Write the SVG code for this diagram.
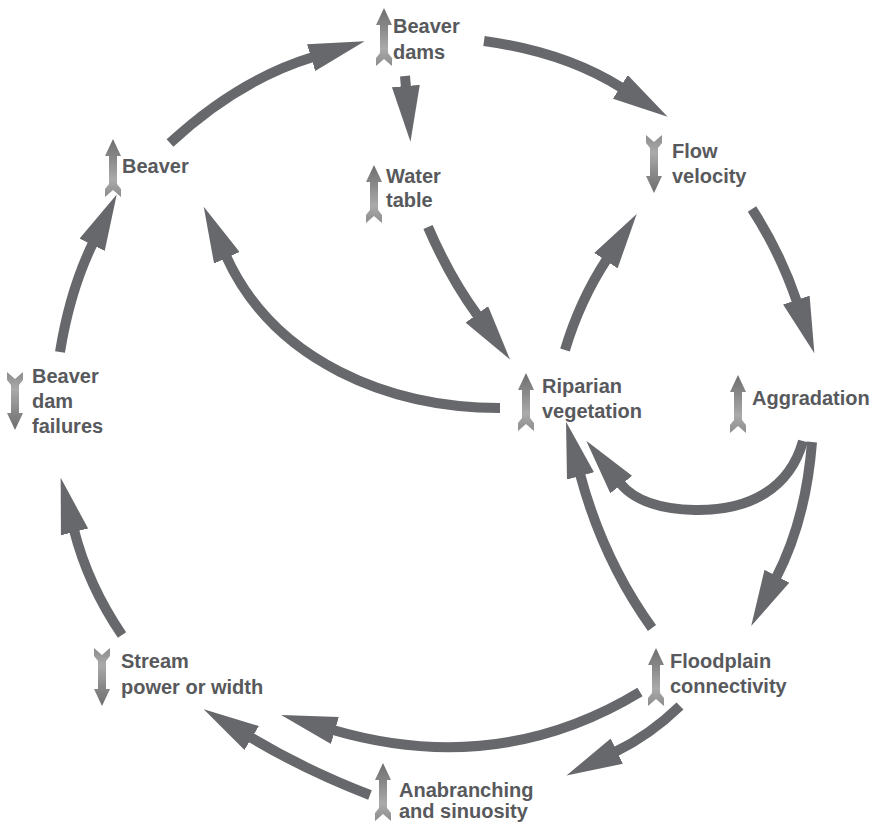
<svg xmlns="http://www.w3.org/2000/svg" xmlns:xlink="http://www.w3.org/1999/xlink" width="875" height="822" viewBox="0 0 875 822">
<style>
.lbl{font-family:"Liberation Sans",Arial,sans-serif;font-weight:bold;font-size:20px;fill:#58595c}
.con{fill:none;stroke:#67686c;stroke-width:10;marker-end:url(#ah)}
</style>
<defs>
<marker id="ah" markerUnits="userSpaceOnUse" viewBox="0 0 56 28" markerWidth="56" markerHeight="28" refX="2" refY="14" orient="auto">
<path d="M0,0 L56,14 L0,28 Z" fill="#67686c"/>
</marker>
<linearGradient id="g" x1="0" y1="0" x2="0" y2="1">
<stop offset="0" stop-color="#6e6e6e"/>
<stop offset="0.35" stop-color="#8a8a8a"/>
<stop offset="0.7" stop-color="#aaaaaa"/>
<stop offset="1" stop-color="#8c8c8c"/>
</linearGradient>
<path id="up" d="M0,0 L8,17 L4,17 L4,45 L8,50 L8,58 L0,51 L-8,58 L-8,50 L-4,45 L-4,17 L-8,17 Z" fill="url(#g)"/>
</defs>
<rect width="875" height="822" fill="#ffffff"/>
<g id="connectors">
<path class="con" d="M170,143 Q238,80 313,57"/>
<path class="con" d="M405,76 L406,88"/>
<path class="con" d="M484,41 Q565,52 622,88"/>
<path class="con" d="M428,227 Q450,278 478,316"/>
<path class="con" d="M752,209 Q780,252 797,302"/>
<path class="con" d="M565,350 Q580,300 607,259"/>
<path class="con" d="M500,408 C390,408 274,362 226,256"/>
<path class="con" d="M803,441 C790,488 750,511 695,510 C655,509 632,498 620,483"/>
<path class="con" d="M812,442 Q806,520 776,578"/>
<path class="con" d="M652,628 Q603,560 580,474"/>
<path class="con" d="M640,692 Q498,778 333,730"/>
<path class="con" d="M680,706 Q650,735 615,752"/>
<path class="con" d="M370,795 Q305,770 250,737"/>
<path class="con" d="M122,635 Q88,585 74,530"/>
<path class="con" d="M60,352 Q70,290 93,243"/>
</g>
<g id="beaver-dams">
<use xlink:href="#up" x="384" y="8"/>
<text class="lbl" x="393" y="33">Beaver</text>
<text class="lbl" x="393" y="59">dams</text>
</g>
<g id="beaver">
<use xlink:href="#up" x="113" y="139"/>
<text class="lbl" x="122" y="173">Beaver</text>
</g>
<g id="water-table">
<use xlink:href="#up" x="374" y="165"/>
<text class="lbl" x="386" y="183">Water</text>
<text class="lbl" x="386" y="207">table</text>
</g>
<g id="flow-velocity">
<use xlink:href="#up" transform="translate(654,193) scale(1,-1)"/>
<text class="lbl" x="672" y="158">Flow</text>
<text class="lbl" x="672" y="183">velocity</text>
</g>
<g id="beaver-dam-failures">
<use xlink:href="#up" transform="translate(15,430) scale(1,-1)"/>
<text class="lbl" x="32" y="383">Beaver</text>
<text class="lbl" x="32" y="408">dam</text>
<text class="lbl" x="32" y="433">failures</text>
</g>
<g id="riparian-vegetation">
<use xlink:href="#up" x="526" y="373"/>
<text class="lbl" x="542" y="393">Riparian</text>
<text class="lbl" x="542" y="418">vegetation</text>
</g>
<g id="aggradation">
<use xlink:href="#up" x="738" y="375"/>
<text class="lbl" x="752" y="405">Aggradation</text>
</g>
<g id="stream-power">
<use xlink:href="#up" transform="translate(102,706) scale(1,-1)"/>
<text class="lbl" x="121" y="668">Stream</text>
<text class="lbl" x="121" y="694">power or width</text>
</g>
<g id="floodplain-connectivity">
<use xlink:href="#up" x="656" y="648"/>
<text class="lbl" x="670" y="668">Floodplain</text>
<text class="lbl" x="670" y="693">connectivity</text>
</g>
<g id="anabranching">
<use xlink:href="#up" x="383" y="763"/>
<text class="lbl" x="399" y="797">Anabranching</text>
<text class="lbl" x="399" y="818">and sinuosity</text>
</g>
</svg>
